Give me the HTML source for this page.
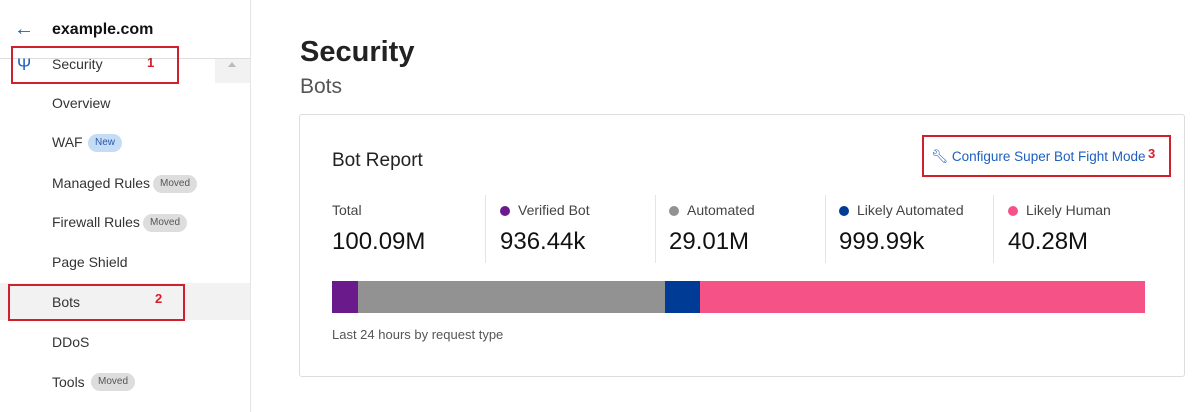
<!DOCTYPE html>
<html><head><style>
body{margin:0;width:1200px;height:412px;background:#fff;font-family:"Liberation Sans",sans-serif;position:relative;overflow:hidden;color:#222}
.a{position:absolute}
.nav{font-size:14px;color:#333}
.badge{position:absolute;font-size:10px;border-radius:9px;padding:3px 7px;line-height:12px}
.mv{background:#ddd;color:#555}
.lab{font-size:14px;color:#444}
.val{font-size:24px;color:#111}
.dot{display:inline-block;width:10px;height:10px;border-radius:50%;margin-right:8px;vertical-align:-1px}
.red{position:absolute;border:2px solid #d21f2c;box-sizing:border-box}
.num{position:absolute;color:#d21f2c;font-size:13px;font-weight:bold}
</style></head><body>
<div class="a" style="left:250px;top:0;width:1px;height:412px;background:#e5e5e5"></div>
<div class="a" style="left:0;top:58px;width:250px;height:1px;background:#ddd"></div>
<div class="a" style="left:215px;top:59px;width:35px;height:24px;background:#f2f2f2"></div>
<div class="a" style="left:228px;top:62px;width:0;height:0;border-left:4px solid transparent;border-right:4px solid transparent;border-bottom:5px solid #bbb"></div>
<div class="a" style="left:0;top:283px;width:250px;height:37px;background:#f2f2f2"></div>
<div class="a" style="left:14px;top:17px;color:#1d5fbf;font-size:20px;line-height:24px">←</div>
<div class="a" style="left:52px;top:21px;font-size:16px;font-weight:bold;color:#111">example.com</div>
<div class="a" style="left:17px;top:55px;color:#1d5fbf;font-size:17px">Ψ</div>
<div class="a nav" style="left:52px;top:56px">Security</div>
<div class="a nav" style="left:52px;top:95px">Overview</div>
<div class="a nav" style="left:52px;top:134px">WAF</div><span class="badge" style="left:88px;top:134px;background:#c5dcf6;color:#2a5aa8">New</span>
<div class="a nav" style="left:52px;top:175px">Managed Rules</div><span class="badge mv" style="left:153px;top:175px">Moved</span>
<div class="a nav" style="left:52px;top:214px">Firewall Rules</div><span class="badge mv" style="left:143px;top:214px">Moved</span>
<div class="a nav" style="left:52px;top:254px">Page Shield</div>
<div class="a nav" style="left:52px;top:294px">Bots</div>
<div class="a nav" style="left:52px;top:374px">Tools</div><span class="badge mv" style="left:91px;top:373px">Moved</span>
<div class="a nav" style="left:52px;top:334px">DDoS</div>
<div class="red" style="left:11px;top:46px;width:168px;height:38px"></div><div class="num" style="left:147px;top:55px">1</div>
<div class="red" style="left:8px;top:284px;width:177px;height:37px"></div><div class="num" style="left:155px;top:291px">2</div>
<div class="a" style="left:300px;top:36px;font-size:29px;font-weight:bold;color:#222">Security</div>
<div class="a" style="left:300px;top:75px;font-size:21px;color:#555">Bots</div>
<div class="a" style="left:299px;top:114px;width:886px;height:263px;border:1px solid #ddd;border-radius:3px;box-sizing:border-box"></div>
<div class="a" style="left:332px;top:150px;font-size:19px;color:#222">Bot Report</div>
<div class="a" style="left:931px;top:149px;font-size:13.5px;color:#1d5fbf">&#x1F527;&#xFE0E; Configure Super Bot Fight Mode</div>
<div class="red" style="left:922px;top:135px;width:249px;height:42px"></div><div class="num" style="left:1148px;top:146px">3</div>
<div class="a lab" style="left:332px;top:202px">Total</div><div class="a val" style="left:332px;top:228px">100.09M</div>
<div class="a" style="left:485px;top:195px;width:1px;height:68px;background:#e5e5e5"></div>
<div class="a lab" style="left:500px;top:202px"><span class="dot" style="background:#6b1a8c"></span>Verified Bot</div><div class="a val" style="left:500px;top:228px">936.44k</div>
<div class="a" style="left:655px;top:195px;width:1px;height:68px;background:#e5e5e5"></div>
<div class="a lab" style="left:669px;top:202px"><span class="dot" style="background:#929292"></span>Automated</div><div class="a val" style="left:669px;top:228px">29.01M</div>
<div class="a" style="left:825px;top:195px;width:1px;height:68px;background:#e5e5e5"></div>
<div class="a lab" style="left:839px;top:202px"><span class="dot" style="background:#003c96"></span>Likely Automated</div><div class="a val" style="left:839px;top:228px">999.99k</div>
<div class="a" style="left:993px;top:195px;width:1px;height:68px;background:#e5e5e5"></div>
<div class="a lab" style="left:1008px;top:202px"><span class="dot" style="background:#f55388"></span>Likely Human</div><div class="a val" style="left:1008px;top:228px">40.28M</div>
<div class="a" style="left:332px;top:281px;width:26px;height:32px;background:#6b1a8c"></div>
<div class="a" style="left:358px;top:281px;width:307px;height:32px;background:#929292"></div>
<div class="a" style="left:665px;top:281px;width:35px;height:32px;background:#003c96"></div>
<div class="a" style="left:700px;top:281px;width:445px;height:32px;background:#f55388"></div>
<div class="a" style="left:332px;top:327px;font-size:13px;color:#555">Last 24 hours by request type</div>
</body></html>
